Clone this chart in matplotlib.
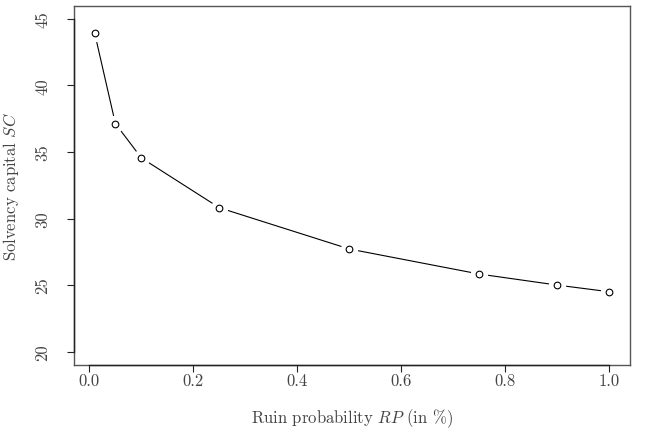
import matplotlib
matplotlib.use("Agg")
import matplotlib.pyplot as plt

# Ruin probability (in %) vs. solvency capital
ruin_prob = [0.01, 0.05, 0.1, 0.25, 0.5, 0.75, 0.9, 1.0]
solvency_capital = [43.95, 37.13, 34.55, 30.81, 27.71, 25.83, 25.0, 24.5]

x_ticks = [0.0, 0.2, 0.4, 0.6, 0.8, 1.0]
x_tick_labels = ["0.0", "0.2", "0.4", "0.6", "0.8", "1.0"]
y_ticks = [20, 25, 30, 35, 40, 45]
y_tick_labels = ["20", "25", "30", "35", "40", "45"]

plt.rcParams["font.family"] = "cmr10"
plt.rcParams["mathtext.fontset"] = "cm"
plt.rcParams["axes.unicode_minus"] = False

line_col = "#222222"
text_col = "#444444"
fs = 12

fig = plt.figure(figsize=(6.52, 4.39), dpi=100)
W, H = 652, 439
left, right, bottom, top = 74.0, 630.0, 366.0, 6.5
ax = fig.add_axes([left / W, 1 - bottom / H, (right - left) / W, (bottom - top) / H])

# R-style type="b": lines with gaps around the points
ax.plot(ruin_prob, solvency_capital, "-", color="black", lw=0.8, zorder=2)
ax.plot(ruin_prob, solvency_capital, "o", ms=11.5, mfc="white", mec="white", zorder=3)
ax.plot(ruin_prob, solvency_capital, "o", ms=4.8, mfc="white", mec="black", mew=0.8, zorder=4)

# R default 4% range expansion
ax.set_xlim(-0.0296, 1.0396)
ax.set_ylim(19, 46)

ax.set_xticks(x_ticks)
ax.set_xticklabels(x_tick_labels)
ax.set_yticks(y_ticks)
ax.set_yticklabels(y_tick_labels, rotation=90, va="center")

ax.tick_params(direction="out", length=5, width=0.8, color=line_col,
               labelsize=fs, labelcolor=text_col)
ax.tick_params(axis="x", pad=0.5)
ax.tick_params(axis="y", pad=12)

for sp in ax.spines.values():
    sp.set_color("#555555")
    sp.set_linewidth(1.0)

# darker axis lines from first to last tick, as R's axis() draws them
ax.plot([x_ticks[0], x_ticks[-1]], [0, 0], color=line_col, lw=1.0,
        transform=ax.get_xaxis_transform(), clip_on=False, zorder=5)
ax.plot([0, 0], [y_ticks[0], y_ticks[-1]], color=line_col, lw=1.0,
        transform=ax.get_yaxis_transform(), clip_on=False, zorder=5)

ax.set_xlabel(r"Ruin probability $RP$ (in %)", fontsize=fs, color=text_col)
ax.set_ylabel(r"Solvency capital $SC$", fontsize=fs, color=text_col)
# label anchors: top edge of x label, right edge of y label (in pixels)
ax.xaxis.set_label_coords(0.5, -(407 - bottom) / (bottom - top))
ax.yaxis.set_label_coords(-(left - 21) / (right - left), 0.5)

fig.savefig("out.png", dpi=100)
